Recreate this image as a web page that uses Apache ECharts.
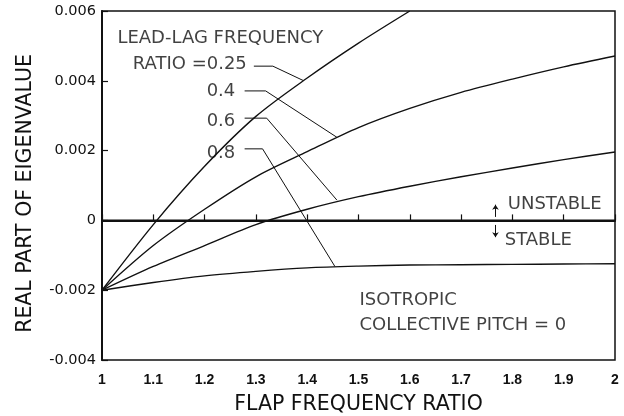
<!DOCTYPE html>
<html>
<head>
<meta charset="utf-8">
<script src="https://cdn.jsdelivr.net/npm/echarts@6/dist/echarts.min.js"></script>
<style>
  html, body { margin: 0; padding: 0; background: #fff; }
  #chart { width: 624px; height: 416px; }
</style>
</head>
<body>
<div id="chart"></div>
<script>
// Flap frequency ratio (x) and real part of the eigenvalue for each lead-lag frequency ratio
const flapRatio = [1.0, 1.1, 1.2, 1.3, 1.4, 1.5, 1.6, 1.7, 1.8, 1.9, 2.0];
const eig025 = [-0.002, -0.00012, 0.00155, 0.00298, 0.00408, 0.00508, 0.006];
const eig04  = [-0.002, -0.00072, 0.00032, 0.00125, 0.00197, 0.00266, 0.00321, 0.00367, 0.00405, 0.0044, 0.00471];
const eig06  = [-0.002, -0.00132, -0.00072, -0.00012, 0.00032, 0.00068, 0.00098, 0.00125, 0.0015, 0.00174, 0.00196];
const eig08  = [-0.002, -0.00178, -0.00159, -0.00146, -0.00136, -0.00131, -0.00128, -0.00127, -0.00126, -0.00125, -0.00124];

// Axis ticks
const xTickLabels = ['1', '1.1', '1.2', '1.3', '1.4', '1.5', '1.6', '1.7', '1.8', '1.9', '2'];
const yTickLabels = ['-0.004', '-0.002', '0', '0.002', '0.004', '0.006'];
const xMin = 1, xMax = 2, xStep = 0.1;
const yMin = -0.004, yMax = 0.006, yStep = 0.002;

// Curve labels and their leader lines (data coordinates)
const curveNotes = [
  { text: 'LEAD-LAG FREQUENCY', at: [1.030, 0.00521] },
  { text: 'RATIO =0.25', at: [1.060, 0.00447] },
  { text: '0.4', at: [1.204, 0.00369] },
  { text: '0.6', at: [1.204, 0.00283] },
  { text: '0.8', at: [1.204, 0.00192] }
];
const leader025 = [[1.296, 0.00442], [1.333, 0.00442], [1.392, 0.00401]];
const leader04  = [[1.278, 0.00371], [1.319, 0.00371], [1.458, 0.00238]];
const leader06  = [[1.278, 0.00293], [1.321, 0.00293], [1.458, 0.00058]];
const leader08  = [[1.278, 0.00205], [1.313, 0.00205], [1.454, -0.00132]];

// Region notes around the stability boundary
const regionNotes = [
  { text: 'UNSTABLE', at: [1.791, 0.00046] },
  { text: 'STABLE', at: [1.785, -0.00057] },
  { text: 'ISOTROPIC', at: [1.502, -0.00230] },
  { text: 'COLLECTIVE PITCH = 0', at: [1.502, -0.00300] }
];
// Small arrows pointing away from the boundary: [from, to]
const arrowPaths = [
  [[1.767, 0.00010], [1.767, 0.00045]],
  [[1.767, -0.00013], [1.767, -0.00048]]
];
const stabilityBoundary = [[1, 0], [2, 0]];

const pair = (xs, ys) => ys.map((v, i) => [xs[i], v]);
const INK = '#111';
const FONT = 'DejaVu Sans';

const curve = (name, ys) => ({
  name, type: 'line', data: pair(flapRatio, ys), showSymbol: false,
  smooth: 0.3, clip: true, silent: true,
  lineStyle: { color: INK, width: 1.4 }
});
const leader = (name, pts) => ({
  name, type: 'line', data: pts, showSymbol: false, silent: true,
  lineStyle: { color: INK, width: 1 }
});
const notes = (name, items, size) => ({
  name, type: 'scatter', symbolSize: 0, silent: true,
  data: items.map(n => ({ name: n.text, value: n.at })),
  label: {
    show: true, position: 'right', distance: 0, formatter: '{b}',
    color: INK, fontFamily: FONT, fontSize: size, verticalAlign: 'middle'
  }
});

const chart = echarts.init(document.getElementById('chart'), null, { renderer: 'canvas' });
chart.setOption({
  animation: false,
  backgroundColor: '#fff',
  grid: {
    left: 102, right: 9, top: 11, bottom: 56,
    containLabel: false, outerBoundsMode: 'none',
    show: true, borderColor: INK, borderWidth: 1.5, backgroundColor: 'transparent'
  },
  xAxis: {
    type: 'value', min: xMin, max: xMax, interval: xStep,
    name: 'FLAP FREQUENCY RATIO', nameLocation: 'middle', nameGap: 34,
    nameTextStyle: { color: INK, fontFamily: FONT, fontSize: 20.5 },
    axisLine: { lineStyle: { color: INK, width: 2 } },
    axisTick: { inside: true, length: 6, lineStyle: { color: INK, width: 1.2 } },
    axisLabel: {
      color: INK, fontFamily: 'Liberation Sans', fontWeight: 'bold', fontSize: 14, margin: 13,
      formatter: v => xTickLabels[Math.round((v - xMin) / xStep)]
    },
    splitLine: { show: false }
  },
  yAxis: {
    type: 'value', min: yMin, max: yMax, interval: yStep,
    name: 'REAL PART OF EIGENVALUE', nameLocation: 'middle', nameGap: 66,
    nameTextStyle: { color: INK, fontFamily: FONT, fontSize: 20.5, padding: [0, 16, 0, 0] },
    axisLine: { lineStyle: { color: INK, width: 2 } },
    axisTick: { inside: true, length: 6, lineStyle: { color: INK, width: 1.2 } },
    axisLabel: {
      color: INK, fontFamily: FONT, fontSize: 14.5, margin: 6,
      formatter: v => yTickLabels[Math.round((v - yMin) / yStep)]
    },
    splitLine: { show: false }
  },
  series: [
    curve('0.25', eig025),
    curve('0.4', eig04),
    curve('0.6', eig06),
    curve('0.8', eig08),
    {
      name: 'boundary', type: 'line', data: stabilityBoundary, showSymbol: false, silent: true,
      lineStyle: { color: INK, width: 2 }
    },
    leader('leader 0.25', leader025),
    leader('leader 0.4', leader04),
    leader('leader 0.6', leader06),
    leader('leader 0.8', leader08),
    {
      name: 'arrows', type: 'lines', coordinateSystem: 'cartesian2d', silent: true,
      symbol: ['none', 'arrow'], symbolSize: 5,
      data: arrowPaths.map(p => ({ coords: p })),
      lineStyle: { color: INK, width: 1, opacity: 1 }
    },
    notes('curve notes', curveNotes, 18),
    notes('region notes', regionNotes, 18)
  ]
});
</script>
</body>
</html>
